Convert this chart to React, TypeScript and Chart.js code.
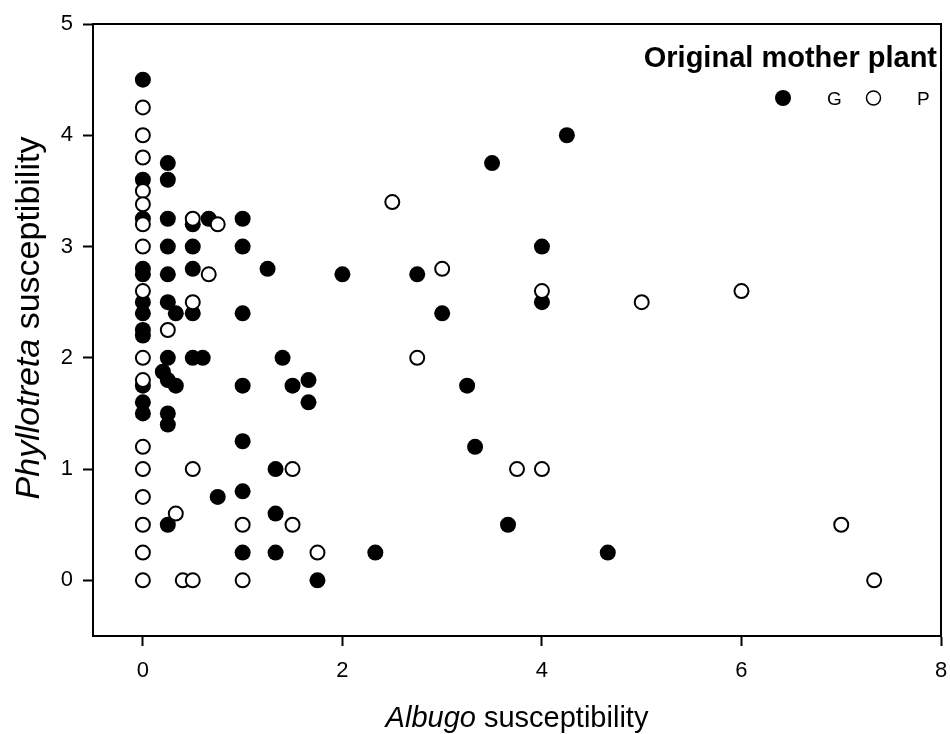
import React, { useEffect, useRef } from "react";
import { Chart, registerables } from "chart.js";

Chart.register(...registerables);

// Series G (filled circles): Albugo (x) and Phyllotreta (y) susceptibility
const gAlbugo = [
  0, 0.25, 0, 0.25, 0, 0.25, 0.5, 0.66, 1, 0.25, 0.5, 1, 0, 0, 0.25, 0.5, 1.25,
  0, 0, 0.25, 0.33, 0.5, 1, 0, 0, 0.25, 0.5, 0.6, 1.4, 0, 0.2, 0.25, 0.33, 1,
  1.5, 1.66, 1.66, 0, 0, 0.25, 0.25, 1, 1.33, 0.75, 1, 0.25, 1.33, 1, 1.33,
  1.75, 2.33, 2, 2.75, 3, 3.5, 4.25, 4, 4, 3.25, 3.33, 3.66, 4.66,
];
const gPhyllotreta = [
  4.5, 3.75, 3.6, 3.6, 3.25, 3.25, 3.2, 3.25, 3.25, 3.0, 3.0, 3.0, 2.8, 2.75,
  2.75, 2.8, 2.8, 2.5, 2.4, 2.5, 2.4, 2.4, 2.4, 2.25, 2.2, 2.0, 2.0, 2.0, 2.0,
  1.75, 1.875, 1.8, 1.75, 1.75, 1.75, 1.8, 1.6, 1.6, 1.5, 1.5, 1.4, 1.25, 1.0,
  0.75, 0.8, 0.5, 0.6, 0.25, 0.25, 0, 0.25, 2.75, 2.75, 2.4, 3.75, 4.0, 3.0,
  2.5, 1.75, 1.2, 0.5, 0.25,
];

// Series P (open circles)
const pAlbugo = [
  0, 0, 0, 0, 0, 0, 0.5, 0.75, 0, 0.66, 0, 0.5, 0.25, 0, 0, 0, 0, 0.5, 1.5, 0,
  0.33, 0, 1, 1.5, 0, 1.75, 0, 0.4, 0.5, 1, 2.5, 3, 4, 5, 6, 2.75, 3.75, 4, 7,
  7.33,
];
const pPhyllotreta = [
  4.25, 4.0, 3.8, 3.5, 3.38, 3.2, 3.25, 3.2, 3.0, 2.75, 2.6, 2.5, 2.25, 2.0,
  1.8, 1.2, 1.0, 1.0, 1.0, 0.75, 0.6, 0.5, 0.5, 0.5, 0.25, 0.25, 0, 0, 0, 0,
  3.4, 2.8, 2.6, 2.5, 2.6, 2.0, 1.0, 1.0, 0.5, 0,
];

const seriesNames = ["G", "P"];
const legendTitle = "Original mother plant";
const xTicks = [0, 2, 4, 6, 8];
const yTicks = [0, 1, 2, 3, 4, 5];
const xTitleItalic = "Albugo";
const xTitleRest = " susceptibility";
const yTitleItalic = "Phyllotreta";
const yTitleRest = " susceptibility";

const FONT = "'Liberation Sans', Arial, Helvetica, sans-serif";

const toPoints = (xs: number[], ys: number[]) =>
  xs.map((x, i) => ({ x, y: ys[i] }));

const decorPlugin = {
  id: "decor",
  afterDraw(chart: any) {
    const { ctx, chartArea } = chart;
    const { left, right, top, bottom } = chartArea;
    ctx.save();
    // top and right frame lines
    ctx.strokeStyle = "#000";
    ctx.lineWidth = 2;
    ctx.beginPath();
    ctx.moveTo(left - 1, top);
    ctx.lineTo(right, top);
    ctx.lineTo(right, bottom + 1);
    ctx.stroke();

    ctx.fillStyle = "#000";
    // x title (mixed italic / normal)
    ctx.textBaseline = "alphabetic";
    ctx.textAlign = "left";
    const xFontI = `italic 29px ${FONT}`;
    const xFontN = `29px ${FONT}`;
    ctx.font = xFontI;
    const wI = ctx.measureText(xTitleItalic).width;
    ctx.font = xFontN;
    const wN = ctx.measureText(xTitleRest).width;
    const cx = (left + right) / 2;
    const sx = cx - (wI + wN) / 2;
    ctx.font = xFontI;
    ctx.fillText(xTitleItalic, sx, 727);
    ctx.font = xFontN;
    ctx.fillText(xTitleRest, sx + wI, 727);

    // y title rotated
    const yFontI = `italic 34px ${FONT}`;
    const yFontN = `34px ${FONT}`;
    ctx.font = yFontI;
    const yI = ctx.measureText(yTitleItalic).width;
    ctx.font = yFontN;
    const yN = ctx.measureText(yTitleRest).width;
    ctx.save();
    ctx.translate(39, 318);
    ctx.rotate(-Math.PI / 2);
    const sy = -(yI + yN) / 2;
    ctx.font = yFontI;
    ctx.fillText(yTitleItalic, sy, 0);
    ctx.font = yFontN;
    ctx.fillText(yTitleRest, sy + yI, 0);
    ctx.restore();

    // legend
    ctx.font = `bold 29px ${FONT}`;
    ctx.textAlign = "right";
    ctx.fillText(legendTitle, 937, 67);
    ctx.beginPath();
    ctx.arc(783, 98, 8, 0, Math.PI * 2);
    ctx.fill();
    ctx.font = `19px ${FONT}`;
    ctx.textAlign = "left";
    ctx.fillText(seriesNames[0], 827, 105);
    ctx.beginPath();
    ctx.arc(873.5, 98, 7, 0, Math.PI * 2);
    ctx.fillStyle = "#fff";
    ctx.fill();
    ctx.lineWidth = 1.5;
    ctx.strokeStyle = "#000";
    ctx.stroke();
    ctx.fillStyle = "#000";
    ctx.fillText(seriesNames[1], 917, 105);
    ctx.restore();
  },
};

export default function App() {
  const canvasRef = useRef<HTMLCanvasElement | null>(null);

  useEffect(() => {
    if (!canvasRef.current) return;
    const chart = new Chart(canvasRef.current, {
      type: "scatter",
      data: {
        datasets: [
          {
            label: seriesNames[0],
            data: toPoints(gAlbugo, gPhyllotreta),
            backgroundColor: "#000",
            borderColor: "#000",
            borderWidth: 0,
            pointRadius: 8,
            order: 2,
          },
          {
            label: seriesNames[1],
            data: toPoints(pAlbugo, pPhyllotreta),
            backgroundColor: "#fff",
            borderColor: "#000",
            borderWidth: 2,
            pointRadius: 7,
            order: 1,
          },
        ],
      },
      options: {
        responsive: false,
        animation: false,
        events: [],
        layout: { padding: { top: 24, right: 7, left: 0, bottom: 0 } },
        plugins: {
          legend: { display: false },
          tooltip: { enabled: false },
          title: { display: false },
        },
        scales: {
          x: {
            type: "linear",
            min: -0.5,
            max: 8,
            afterBuildTicks: (s: any) => {
              s.ticks = xTicks.map((v) => ({ value: v }));
            },
            afterFit: (s: any) => {
              s.height = 98;
              s.paddingLeft = 0;
              s.paddingRight = 0;
            },
            grid: {
              display: true,
              drawOnChartArea: false,
              drawTicks: true,
              tickLength: 10,
              tickWidth: 2,
              tickColor: "#000",
              color: "#000",
            },
            border: { display: true, color: "#000", width: 2 },
            ticks: {
              color: "#000",
              font: { family: FONT, size: 22 },
              padding: 12,
              maxRotation: 0,
            },
          },
          y: {
            type: "linear",
            min: -0.5,
            max: 5,
            afterBuildTicks: (s: any) => {
              s.ticks = yTicks.map((v) => ({ value: v }));
            },
            afterFit: (s: any) => {
              s.width = 93;
              s.paddingTop = 0;
              s.paddingBottom = 0;
            },
            grid: {
              display: true,
              drawOnChartArea: false,
              drawTicks: true,
              tickLength: 10,
              tickWidth: 2,
              tickColor: "#000",
              color: "#000",
            },
            border: { display: true, color: "#000", width: 2 },
            ticks: {
              color: "#000",
              font: { family: FONT, size: 22 },
              padding: 10,
            },
          },
        },
      },
      plugins: [decorPlugin],
    });
    return () => chart.destroy();
  }, []);

  return (
    <div
      style={{
        position: "absolute",
        left: 0,
        top: 0,
        width: 950,
        height: 734,
        background: "#fff",
      }}
    >
      <canvas ref={canvasRef} width={950} height={734} />
    </div>
  );
}
